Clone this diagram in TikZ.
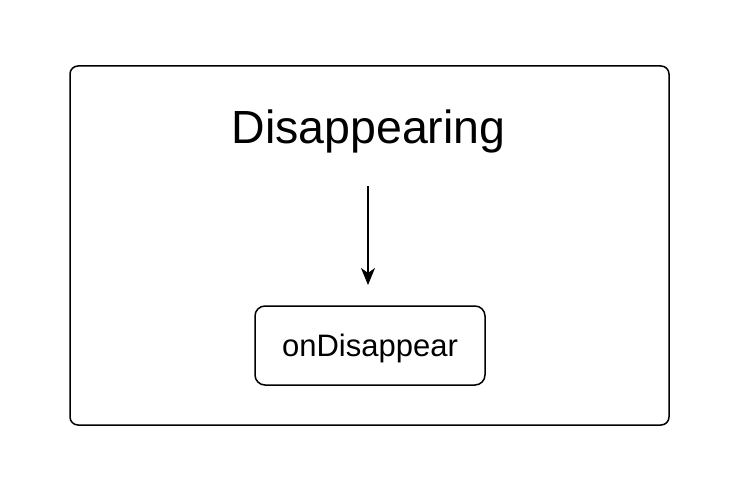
\documentclass[tikz,border=0pt]{standalone}
\usepackage{fontspec}
\setmainfont{Liberation Sans}
\usetikzlibrary{arrows.meta}

\begin{document}
\begin{tikzpicture}[x=1pt,y=-1pt,
    cadre/.style={draw, line width=1.5pt, rounded corners=8pt},
    boite/.style={draw, line width=1.5pt, rounded corners=10pt, minimum width=230pt, minimum height=79pt, text height=22pt, text depth=0.5pt, font=\fontsize{31}{36}\selectfont},
    fleche/.style={line width=1.4pt, -{Stealth[length=17pt, width=14pt, inset=5pt]}}]
    % Cadre
    \useasboundingbox (0,0) rectangle (744,494);
    \draw[cadre] (70,66) rectangle (669,425);

    % Titre
    \node[font=\fontsize{46.5}{52}\selectfont] (titre) at (368.5,131) {Disappearing};

    % Fleche vers la boite
    \coordinate (depart) at (368,186);
    \coordinate (arrivee) at (368,285);
    \draw[fleche] (depart) -- (arrivee);

    % Boite onDisappear
    \node[boite] (evenement) at (370,345.5) {onDisappear};
\end{tikzpicture}
\end{document}
